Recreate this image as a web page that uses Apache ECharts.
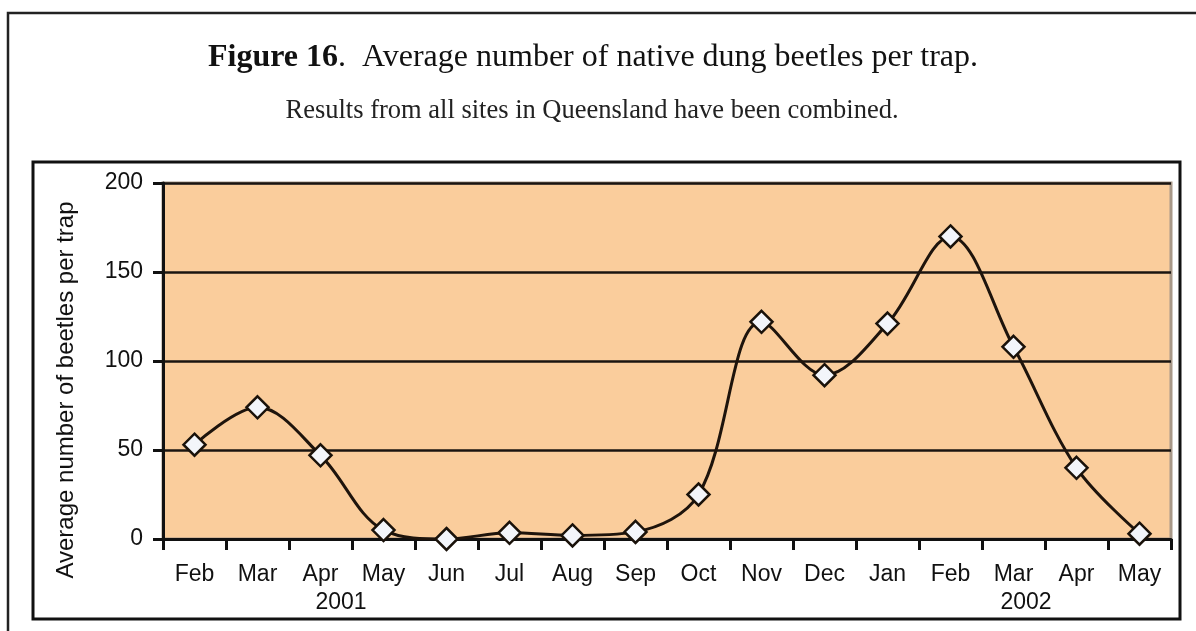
<!DOCTYPE html>
<html>
<head>
<meta charset="utf-8">
<script src="https://cdn.jsdelivr.net/npm/echarts@6/dist/echarts.min.js"></script>
<style>
  html, body { margin: 0; padding: 0; background: #ffffff; }
  #chart { width: 1196px; height: 631px; }
</style>
</head>
<body>
<div id="chart"></div>
<script>
// Monthly survey, Feb 2001 – May 2002
const months = ['Feb', 'Mar', 'Apr', 'May', 'Jun', 'Jul', 'Aug', 'Sep',
                'Oct', 'Nov', 'Dec', 'Jan', 'Feb', 'Mar', 'Apr', 'May'];
const beetlesPerTrap = [53, 74, 47, 5, 0, 3.5, 2, 4, 25, 122, 92, 121, 170, 108, 40, 3];
const yTicks = [0, 50, 100, 150, 200];
const yearLabels = [
  { text: '2001', x: 341 },
  { text: '2002', x: 1026 }
];

const chart = echarts.init(document.getElementById('chart'));

const sans = 'Liberation Sans, Arial, sans-serif';
const serif = 'Liberation Serif, Times New Roman, serif';

chart.setOption({
  animation: false,
  backgroundColor: '#ffffff',
  title: [
    {
      text: '{b|Figure 16}{r|.  Average number of native dung beetles per trap.}',
      left: 588, top: 37, textAlign: 'center',
      textStyle: {
        fontWeight: 'normal',
        rich: {
          b: { fontFamily: serif, fontSize: 32, fontWeight: 'bold', color: '#111' },
          r: { fontFamily: serif, fontSize: 32, fontWeight: 'normal', color: '#111' }
        }
      }
    },
    {
      text: 'Results from all sites in Queensland have been combined.',
      left: 587, top: 93, textAlign: 'center',
      textStyle: { fontFamily: serif, fontSize: 26.5, fontWeight: 'normal', color: '#222' }
    }
  ],
  graphic: [
    { type: 'rect', shape: { x: 8, y: 13, width: 1200, height: 640 },
      style: { fill: 'none', stroke: '#222', lineWidth: 2.5 }, z: 0 },
    { type: 'rect', shape: { x: 33, y: 162, width: 1147, height: 457 },
      style: { fill: 'none', stroke: '#111', lineWidth: 3 }, z: 0 },
    { type: 'text', x: 66, y: 390, rotation: Math.PI / 2,
      style: { text: 'Average number of beetles per trap', fontFamily: sans, fontSize: 24,
               fill: '#111', align: 'center', verticalAlign: 'middle' } }
  ].concat(yearLabels.map(function (y) {
    return { type: 'text', x: y.x, y: 603,
      style: { text: y.text, fontFamily: sans, fontSize: 23, fill: '#111',
               align: 'center', verticalAlign: 'middle' } };
  })),
  grid: {
    left: 163, right: 25, top: 183, bottom: 92,
    show: true, backgroundColor: '#FACD9C', borderColor: '#A89888', borderWidth: 3
  },
  xAxis: {
    type: 'category',
    data: months,
    boundaryGap: true,
    axisLine: { show: true, onZero: false, lineStyle: { color: '#111', width: 3 } },
    axisTick: { show: true, length: 11, alignWithLabel: false, lineStyle: { color: '#111', width: 3 } },
    axisLabel: { interval: 0, margin: 24, fontFamily: sans, fontSize: 23, color: '#111' },
    splitLine: { show: false }
  },
  yAxis: {
    type: 'value',
    min: yTicks[0], max: yTicks[yTicks.length - 1], interval: 50,
    axisLine: { show: true, lineStyle: { color: '#111', width: 3 } },
    axisTick: { show: true, length: 10, lineStyle: { color: '#111', width: 3 } },
    axisLabel: { margin: 20, fontFamily: sans, fontSize: 23, color: '#111' },
    splitLine: { show: true, lineStyle: { color: '#1a1410', width: 2.5 } }
  },
  series: [{
    type: 'line',
    data: beetlesPerTrap,
    smooth: 0.35,
    symbol: 'diamond',
    symbolSize: 22,
    lineStyle: { color: '#1e140c', width: 3 },
    itemStyle: { color: '#F3F5FA', borderColor: '#1a120a', borderWidth: 2.5 },
    z: 5
  }]
});
</script>
</body>
</html>
